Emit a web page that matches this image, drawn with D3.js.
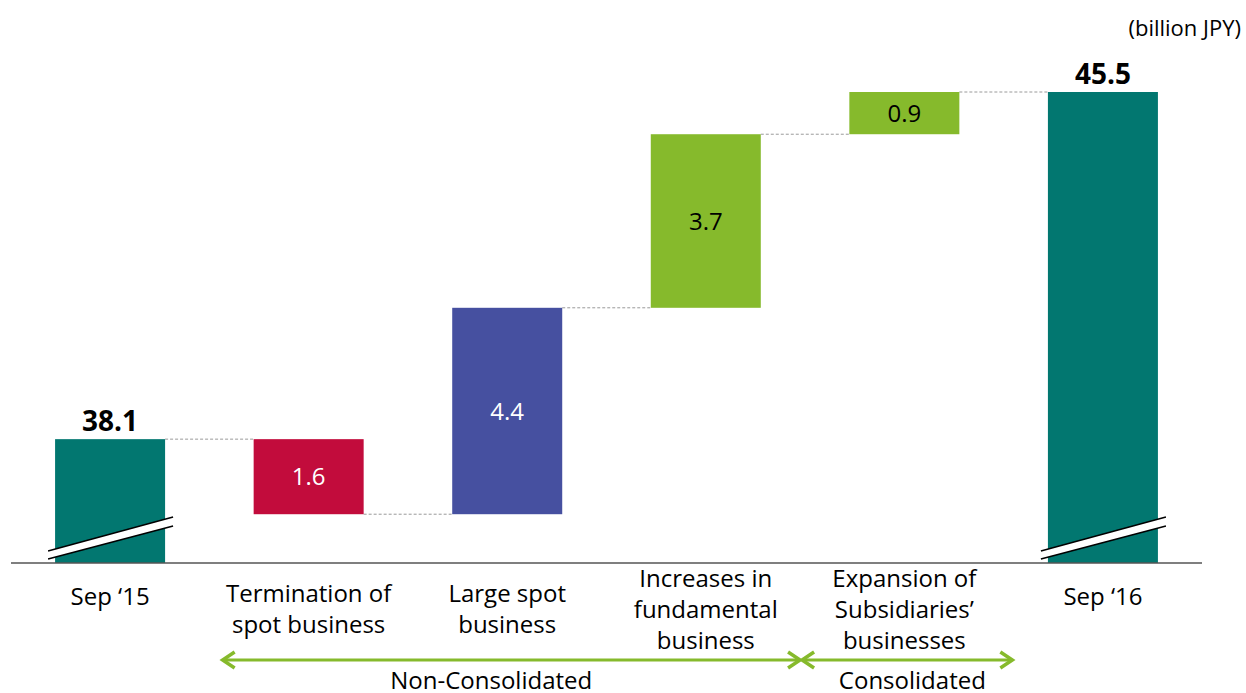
<!DOCTYPE html>
<html>
<head>
<meta charset="utf-8">
<script src="https://cdn.jsdelivr.net/npm/d3@7"></script>
<style>
    body { margin: 0; background: #fff; font-family: "Open Sans", "Noto Sans", sans-serif; }
    svg text { font-family: "Open Sans", "Noto Sans", sans-serif; }
</style>
</head>
<body>
<svg id="chart" width="1246" height="693"></svg>
<script>
// categories (each entry is the lines of its axis label)
var categories = [
    ["Sep \u201815"],
    ["Termination of", "spot business"],
    ["Large spot", "business"],
    ["Increases in", "fundamental", "business"],
    ["Expansion of", "Subsidiaries\u2019", "businesses"],
    ["Sep \u201816"]
];
var kinds  = ["total", "down", "up", "up", "up", "total"];
var values = [38.1, 1.6, 4.4, 3.7, 0.9, 45.5];
var colors = ["#027770", "#C20C3C", "#4650A0", "#86BA2C", "#86BA2C", "#027770"];
var labelColors = ["#000", "#fff", "#fff", "#000", "#000", "#000"];
var groups = ["Non-Consolidated", "Consolidated"];
var groupSpans = [[1, 3], [4, 4]];

var svg = d3.select("#chart");

var x = d3.scaleBand()
    .domain(d3.range(categories.length))
    .range([11, 1202])
    .paddingInner(0.446)
    .paddingOuter(0.222);

var y = d3.scaleLinear()
    .domain([35.46, 45.5])
    .range([563, 92]);

// running totals for waterfall
var bars = [];
var level = 0;
values.forEach(function(v, i) {
    var lo, hi;
    if (kinds[i] === "total") { lo = y.domain()[0]; hi = v; level = v; }
    else if (kinds[i] === "up") { lo = level; hi = level + v; level = hi; }
    else { hi = level; lo = level - v; level = lo; }
    bars.push({i: i, lo: lo, hi: hi, end: level, v: v, kind: kinds[i]});
});

// connectors
for (var i = 0; i < bars.length - 1; i++) {
    svg.append("line")
        .attr("x1", x(i) + x.bandwidth()).attr("x2", x(i + 1))
        .attr("y1", y(bars[i].end)).attr("y2", y(bars[i].end))
        .attr("stroke", "#9a9a9a").attr("stroke-width", 1)
        .attr("stroke-dasharray", "3,2");
}

svg.selectAll("rect.bar").data(bars).enter().append("rect")
    .attr("class", "bar")
    .attr("x", function(d) { return x(d.i); })
    .attr("width", x.bandwidth())
    .attr("y", function(d) { return y(d.hi); })
    .attr("height", function(d) { return y(d.lo) - y(d.hi); })
    .attr("fill", function(d) { return colors[d.i]; });

// value labels
svg.selectAll("text.val").data(bars).enter().append("text")
    .attr("class", "val")
    .attr("x", function(d) { return x(d.i) + x.bandwidth() / 2; })
    .attr("y", function(d) {
        return d.kind === "total" ? y(d.hi) - 8 : (y(d.hi) + y(d.lo)) / 2;
    })
    .attr("dy", function(d) { return d.kind === "total" ? 0 : "0.36em"; })
    .attr("text-anchor", "middle")
    .attr("font-size", function(d) { return d.kind === "total" ? 28 : 24; })
    .attr("font-weight", function(d) { return d.kind === "total" ? "bold" : "normal"; })
    .attr("fill", function(d) { return labelColors[d.i]; })
    .text(function(d) { return d.v.toFixed(1); });

// axis baseline
svg.append("line")
    .attr("x1", x.range()[0]).attr("x2", x.range()[1])
    .attr("y1", y.range()[0]).attr("y2", y.range()[0])
    .attr("stroke", "#555").attr("stroke-width", 1.3);

// axis break marks on total bars
bars.filter(function(d) { return d.kind === "total"; }).forEach(function(d) {
    var x0 = x(d.i) - 7, x1 = x(d.i) + x.bandwidth() + 8;
    var base = y.range()[0];
    svg.append("path")
        .attr("d", "M" + x0 + "," + (base - 12) + "L" + x1 + "," + (base - 46) +
                   "L" + x1 + "," + (base - 37) + "L" + x0 + "," + (base - 4) + "Z")
        .attr("fill", "#fff");
    svg.append("line")
        .attr("x1", x0).attr("y1", base - 12).attr("x2", x1).attr("y2", base - 46)
        .attr("stroke", "#000").attr("stroke-width", 1.5);
    svg.append("line")
        .attr("x1", x0).attr("y1", base - 4).attr("x2", x1).attr("y2", base - 37)
        .attr("stroke", "#000").attr("stroke-width", 1.5);
});

// category labels
var lineH = 31;
categories.forEach(function(lines, i) {
    var cy = lines.length === 1 ? 596 : 609;
    var t = svg.append("text")
        .attr("text-anchor", "middle")
        .attr("font-size", 24)
        .attr("fill", "#000");
    lines.forEach(function(s, k) {
        t.append("tspan")
            .attr("x", x(i) + x.bandwidth() / 2)
            .attr("y", cy - (lines.length - 1) * lineH / 2 + k * lineH)
            .attr("dy", "0.36em")
            .text(s);
    });
});

// group arrows
var green = "#86BA2C";
var arrowY = 660;
var mid = x(3) + x.bandwidth() + (x.step() - x.bandwidth()) / 2 - 4;
var spans = [[x(1) - 32, mid], [mid, x(4) + x.bandwidth() + 54]];
function chevron(px, dir) {
    return "M" + (px + dir * 12) + "," + (arrowY - 8) + "L" + px + "," + arrowY +
           "L" + (px + dir * 12) + "," + (arrowY + 8);
}
spans.forEach(function(s, g) {
    svg.append("line")
        .attr("x1", s[0] + 2).attr("x2", s[1] - 2)
        .attr("y1", arrowY).attr("y2", arrowY)
        .attr("stroke", green).attr("stroke-width", 3);
    svg.append("path").attr("d", chevron(s[0] + 1, 1))
        .attr("fill", "none").attr("stroke", green).attr("stroke-width", 3.5);
    svg.append("path").attr("d", chevron(s[1] - 1, -1))
        .attr("fill", "none").attr("stroke", green).attr("stroke-width", 3.5);
    var span = groupSpans[g];
    svg.append("text")
        .attr("x", (x(span[0]) + x(span[1]) + x.bandwidth()) / 2 - (g === 0 ? 16 : 0) + (g === 1 ? 8 : 0))
        .attr("y", 680).attr("dy", "0.36em")
        .attr("text-anchor", "middle")
        .attr("font-size", 24)
        .text(groups[g]);
});

// unit
svg.append("text")
    .attr("x", 1241).attr("y", 28).attr("dy", "0.36em")
    .attr("text-anchor", "end")
    .attr("font-size", 22)
    .text("(billion JPY)");
</script>
</body>
</html>
